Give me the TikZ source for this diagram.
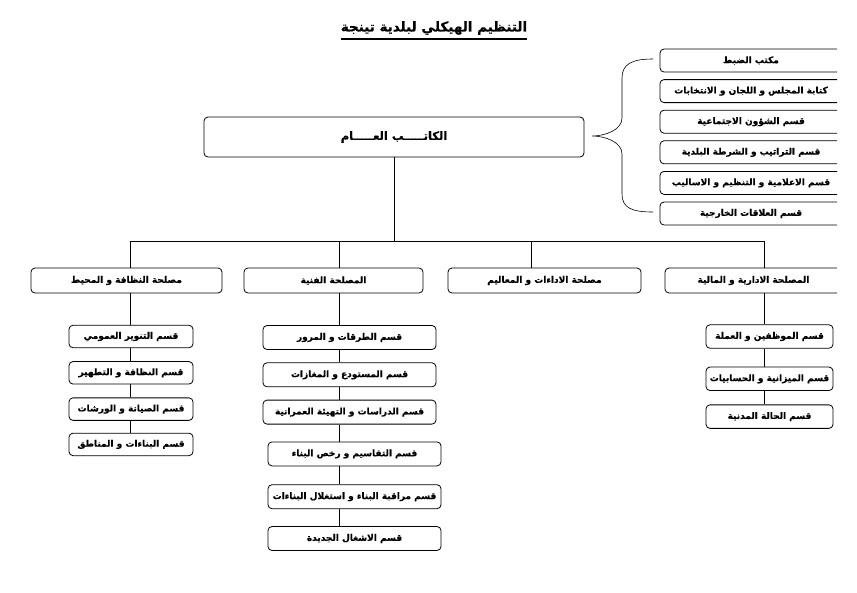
\documentclass[tikz,border=0pt]{standalone}
\usepackage{fontspec}
\usetikzlibrary{positioning}
\newfontfamily\arabicfont[Script=Arabic, BoldFeatures={FakeBold=0.5}]{DejaVu Sans}
\TeXXeTstate=1
\newcommand{\artxt}[1]{\beginR #1\endR}

\begin{document}
\begin{tikzpicture}[
  x=1pt, y=-1pt,
  font=\fontsize{9}{11}\selectfont\arabicfont\bfseries,
  box/.style={draw, line width=0.8pt, rounded corners=4pt, inner xsep=1pt, inner ysep=2pt, minimum height=23pt},
  sec/.style={box, minimum height=25pt},
  unit/.style={box, minimum width=124pt, minimum height=22.5pt},
  tech/.style={box, minimum width=173pt, minimum height=24pt},
  adm/.style={box, minimum width=127pt, minimum height=23.5pt},
  side/.style={box, minimum width=182pt},
  link/.style={line width=0.6pt},
]
  \useasboundingbox (0,0) rectangle (857,592);
  \begin{scope}
  \clip (0,0) rectangle (837,592);
  % title
  \node[inner sep=0pt, font=\fontsize{13.5}{16}\selectfont\arabicfont\bfseries] (title) at (434,28) {\artxt{التنظيم الهيكلي لبلدية تينجة}};
  \draw[line width=1.6pt] ([yshift=-4pt]title.south west) -- ([yshift=-4pt]title.south east);
  % secretary general
  \node[box, minimum width=380pt, minimum height=40pt, font=\fontsize{11.5}{13}\selectfont\arabicfont\bfseries] (katib) at (394,137) {\artxt{الكاتـــــب العـــــام}};
  % attached offices
  \node[side] (r1) at (751,60.5) {\artxt{مكتب الضبط}};
  \node[side, below=6.8pt of r1] (r2) {\artxt{كتابة المجلس و اللجان و الانتخابات}};
  \node[side, below=6.8pt of r2] (r3) {\artxt{قسم الشؤون الاجتماعية}};
  \node[side, below=6.8pt of r3] (r4) {\artxt{قسم التراتيب و الشرطة البلدية}};
  \node[side, below=6.8pt of r4] (r5) {\artxt{قسم الاعلامية و التنظيم و الاساليب}};
  \node[side, below=6.8pt of r5] (r6) {\artxt{قسم العلاقات الخارجية}};
  \draw[link] (653,59) .. controls (632,59) and (622,64) .. (622,78) -- (622,118)
    .. controls (622,130) and (605,136) .. (592,136)
    .. controls (605,136) and (622,142) .. (622,154) -- (622,194)
    .. controls (622,208) and (632,212) .. (653,212);
  % services
  \node[sec, minimum width=191pt] (secA) at (126.5,280.5) {\artxt{مصلحة النظافة و المحيط}};
  \node[sec, minimum width=179pt] (secB) at (333.5,280.5) {\artxt{المصلحة الفنية}};
  \node[sec, minimum width=193pt] (secC) at (544.5,280.5) {\artxt{مصلحة الاداءات و المعاليم}};
  \node[sec, minimum width=177pt] (secD) at (753.5,280.5) {\artxt{المصلحة الادارية و المالية}};
  \coordinate (busA) at (130,241);
  \coordinate (busB) at (339,241);
  \coordinate (busC) at (531,241);
  \coordinate (busD) at (764,241);
  % sections
  \node[unit] (a1) at (131,336.5) {\artxt{قسم التنوير العمومي}};
  \node[unit, below=13pt of a1] (a2) {\artxt{قسم النظافة و التطهير}};
  \node[unit, below=13pt of a2] (a3) {\artxt{قسم الصيانة و الورشات}};
  \node[unit, below=12pt of a3] (a4) {\artxt{قسم البناءات و المناطق}};
  \node[tech] (b1) at (349.5,337.5) {\artxt{قسم الطرقات و المرور}};
  \node[tech, below=12.5pt of b1] (b2) {\artxt{قسم المستودع و المغازات}};
  \node[tech, below=12.5pt of b2] (b3) {\artxt{قسم الدراسات و التهيئة العمرانية}};
  \node[tech, below=17pt of b3, xshift=5pt] (b4) {\artxt{قسم التقاسيم و رخص البناء}};
  \node[tech, below=18pt of b4] (b5) {\artxt{قسم مراقبة البناء و استغلال البناءات}};
  \node[tech, below=17pt of b5] (b6) {\artxt{قسم الاشغال الجديدة}};
  \node[adm] (d1) at (769.5,336.5) {\artxt{قسم الموظفين و العملة}};
  \node[adm, below=18pt of d1] (d2) {\artxt{قسم الميزانية و الحسابيات}};
  \node[adm, below=13.5pt of d2] (d3) {\artxt{قسم الحالة المدنية}};
  % connectors
  \draw[link] (katib.south) -- (katib.south |- busA);
  \draw[link] (busA) -- (busD);
  \foreach \b/\s in {busA/secA,busB/secB,busC/secC,busD/secD}
    \draw[link] (\b) -- (\b |- \s.north);
  \foreach \u/\v in {secA/a1,a1/a2,a2/a3,a3/a4}
    \draw[link] (\u.south -| busA) -- (\v.north -| busA);
  \foreach \u/\v in {secB/b1,b1/b2,b2/b3,b3/b4,b4/b5,b5/b6}
    \draw[link] (\u.south -| busB) -- (\v.north -| busB);
  \foreach \u/\v in {secD/d1,d1/d2,d2/d3}
    \draw[link] (\u.south -| busD) -- (\v.north -| busD);
  \end{scope}
\end{tikzpicture}
\end{document}
